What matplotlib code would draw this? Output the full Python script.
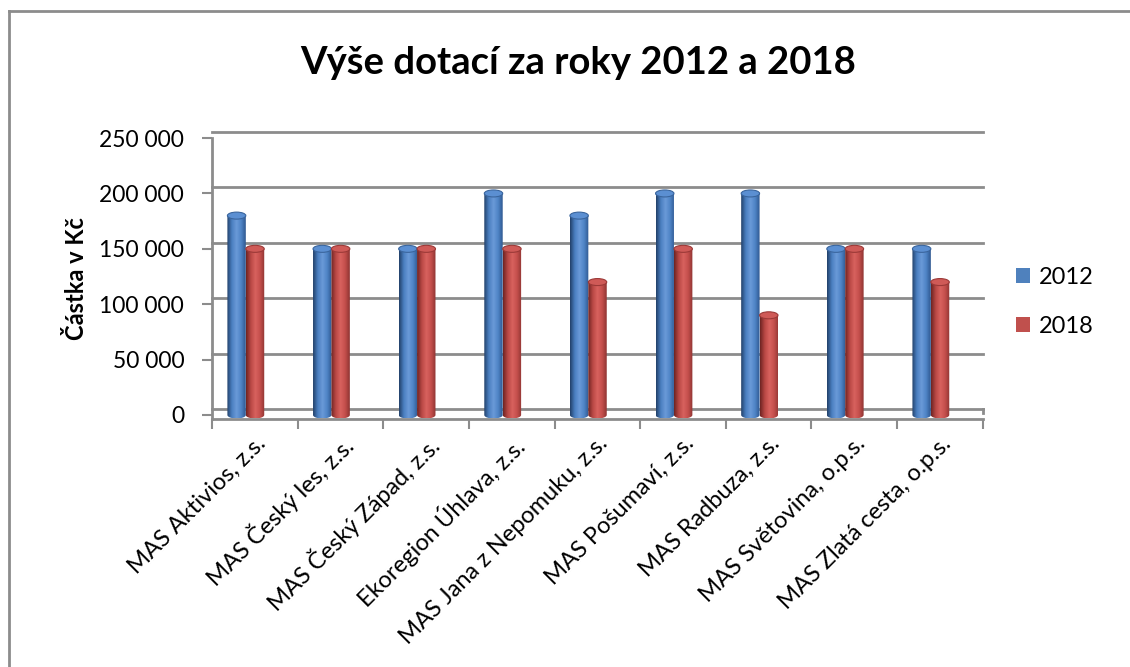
import numpy as np
import matplotlib
matplotlib.use("Agg")
import matplotlib.pyplot as plt
from matplotlib.colors import LinearSegmentedColormap
from matplotlib.patches import Polygon, Ellipse, Patch
from matplotlib.lines import Line2D
from matplotlib.transforms import ScaledTranslation

plt.rcParams["font.family"] = ["Lato", "DejaVu Sans"]

categories = ["MAS Aktivios, z.s.", "MAS Český les, z.s.", "MAS Český Západ, z.s.",
              "Ekoregion Úhlava, z.s.", "MAS Jana z Nepomuku, z.s.", "MAS Pošumaví, z.s.",
              "MAS Radbuza, z.s.", "MAS Světovina, o.p.s.", "MAS Zlatá cesta, o.p.s."]
values_2012 = [180000, 150000, 150000, 200000, 180000, 200000, 200000, 150000, 150000]
values_2018 = [150000, 150000, 150000, 150000, 120000, 150000, 90000, 150000, 120000]
years = ["2012", "2018"]
yticks = [0, 50000, 100000, 150000, 200000, 250000]
ytick_labels = ["0", "50 000", "100 000", "150 000", "200 000", "250 000"]

blue = "#4F81BD"
red = "#C0504D"
blue_cmap = LinearSegmentedColormap.from_list("b", ["#22416a", "#4a7ec0", "#6a9ad8", "#4f84c6", "#2f5890"])
red_cmap = LinearSegmentedColormap.from_list("r", ["#6e2422", "#b94845", "#d8625e", "#c44f4c", "#8e3432"])

fig = plt.figure(figsize=(11.3, 6.67), dpi=100)
ax = fig.add_axes([0.1876, 0.372, 0.682, 0.421])

x = np.arange(len(categories))
bw = 0.215
off = -0.105
ymin, ymax = -3500, 250000
ax.set_xlim(-0.5, len(categories) - 0.5)
ax.set_ylim(ymin, ymax)

# back wall gridlines, pushed up a little for the 3D look
shift = ax.get_yaxis_transform() + ScaledTranslation(0, 6 / 100, fig.dpi_scale_trans)
for v in yticks:
    ax.plot([0.0, 1.0], [v, v], transform=shift, color="#8c8c8c", lw=2, zorder=1, clip_on=False)
ax.plot([1.0, 1.0], [ymin, 0], transform=shift, color="#8c8c8c", lw=2, zorder=1, clip_on=False)

# cylinder bars
px_per_unit = (0.421 * 667) / (ymax - ymin)
eh = 3.5 / px_per_unit  # half height of the ellipse caps
grad = np.linspace(0, 1, 64).reshape(1, -1)
t = np.linspace(0, np.pi, 30)
for vals, shiftx, cmap, top_col in [(values_2012, off - bw / 2, blue_cmap, "#5b8fd2"),
                                    (values_2018, off + bw / 2, red_cmap, "#cf5a57")]:
    for xi, h in zip(x, vals):
        x0 = xi + shiftx - bw / 2
        x1 = xi + shiftx + bw / 2
        xc = (x0 + x1) / 2
        arc_x = xc - (bw / 2) * np.cos(t)
        arc_y = 0 - eh * np.sin(t)
        pts = [(x0, h)] + list(zip(arc_x, arc_y)) + [(x1, h)]
        poly = Polygon(pts, closed=True, facecolor="none", edgecolor="none")
        ax.add_patch(poly)
        im = ax.imshow(grad, extent=[x0, x1, -eh, h], aspect="auto", cmap=cmap, zorder=3)
        im.set_clip_path(poly)
        ax.add_patch(Ellipse((xc, h), bw, 2 * eh, facecolor=top_col,
                             edgecolor=cmap(0.15), lw=0.8, zorder=4))

# axes styling
for s in ["top", "right"]:
    ax.spines[s].set_visible(False)
for s in ["left", "bottom"]:
    ax.spines[s].set_color("#8c8c8c")
    ax.spines[s].set_linewidth(2)

ax.set_yticks(yticks)
ax.set_yticklabels(ytick_labels, fontsize=16.5)
ax.tick_params(axis="y", direction="out", length=7, width=1.5, color="#8c8c8c", pad=13)
ax.set_xticks(x)
ax.set_xticklabels(categories, rotation=45, ha="right", rotation_mode="anchor", fontsize=17)
ax.tick_params(axis="x", which="major", length=0, pad=10)
ax.set_xticks(np.arange(-0.5, len(categories)), minor=True)
ax.tick_params(axis="x", which="minor", direction="out", length=7, width=1.5, color="#8c8c8c")

ax.set_ylabel("Částka v Kč", fontsize=17, fontweight="bold", labelpad=8)

fig.text(0.512, 0.905, "Výše dotací za roky 2012 a 2018", fontsize=27.5, fontweight="bold",
         ha="center", va="center")

handles = [Patch(facecolor=blue, edgecolor="none"), Patch(facecolor=red, edgecolor="none")]
fig.legend(handles, years, loc="center left", bbox_to_anchor=(0.88, 0.547), frameon=False,
           fontsize=17, handlelength=0.6, handleheight=0.6, handletextpad=0.4, labelspacing=1.2)

# chart border
fig.add_artist(Line2D([9 / 1130, 1.0], [1 - 11 / 667, 1 - 11 / 667], transform=fig.transFigure,
                      color="#8c8c8c", lw=2))
fig.add_artist(Line2D([9 / 1130, 9 / 1130], [0, 1 - 11 / 667], transform=fig.transFigure,
                      color="#8c8c8c", lw=2))

fig.savefig("out.png", dpi=100)
